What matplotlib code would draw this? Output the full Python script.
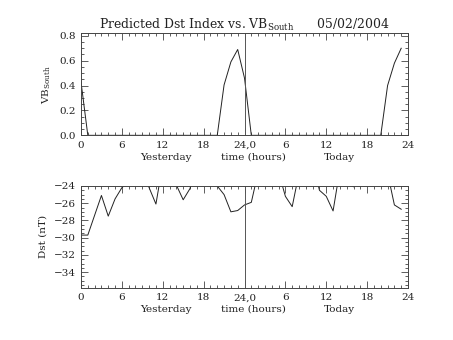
import numpy as np
import matplotlib
matplotlib.use('Agg')
import matplotlib.pyplot as plt
from matplotlib.ticker import MultipleLocator

plt.rcParams['font.family'] = 'DejaVu Serif'
plt.rcParams['mathtext.default'] = 'regular'
plt.rcParams['text.color'] = '#222222'
plt.rcParams['xtick.labelcolor'] = '#222222'
plt.rcParams['ytick.labelcolor'] = '#222222'
plt.rcParams['axes.labelcolor'] = '#222222'

hours = np.arange(48)
tick_hours = [0, 6, 12, 18, 24, 30, 36, 42, 48]
tick_labels = ['0', '6', '12', '18', '24,0', '6', '12', '18', '24']

# VB south, hourly (yesterday + today)
vb_south = [0.43, 0.0, 0.0, 0.0, 0.0, 0.0, 0.0, 0.0, 0.0, 0.0,
            0.0, 0.0, 0.0, 0.0, 0.0, 0.0, 0.0, 0.0, 0.0, 0.0,
            0.0, 0.405, 0.59, 0.69, 0.46, 0.0, 0.0, 0.0, 0.0, 0.0,
            0.0, 0.0, 0.0, 0.0, 0.0, 0.0, 0.0, 0.0, 0.0, 0.0,
            0.0, 0.0, 0.0, 0.0, 0.0, 0.40, 0.58, 0.70]

# Dst (nT), hourly; values above -24 are cut off by the axis
dst = [-29.7, -29.7, -27.4, -25.1, -27.5, -25.5, -24.2, -23.5, -23.0, -22.2,
       -24.2, -26.1, -21.4, -23.0, -23.9, -25.6, -24.3, -21.3, -23.0, -23.0,
       -24.0, -25.0, -27.0, -26.85, -26.2, -25.9, -22.4, -23.0, -23.0, -22.4,
       -25.2, -26.4, -22.5, -23.0, -21.2, -24.5, -25.2, -26.9, -22.1, -23.5,
       -24.1, -23.5, -23.0, -23.0, -23.0, -22.5, -26.2, -26.7]

fig = plt.figure(figsize=(4.53, 3.40), dpi=100)
ax1 = fig.add_axes([0.1788, 0.602, 0.7219, 0.300])
ax2 = fig.add_axes([0.1788, 0.154, 0.7219, 0.299])

line_col = '#222222'


def style_axis(ax):
    ax.set_xlim(0, 48)
    ax.set_xticks(tick_hours)
    ax.set_xticklabels(tick_labels)
    ax.xaxis.set_minor_locator(MultipleLocator(1))
    ax.tick_params(which='both', direction='in', top=True, right=True,
                   labelsize=7.5, width=0.6, color='#444444', pad=4)
    ax.tick_params(which='major', length=5)
    ax.tick_params(which='minor', length=2.5)
    for s in ax.spines.values():
        s.set_linewidth(0.7)
        s.set_color('#444444')
    ax.axvline(24, color='#555555', lw=0.7)
    ax.text(0.259, -0.215, 'Yesterday', transform=ax.transAxes,
            ha='center', va='center', fontsize=7.5)
    ax.text(0.526, -0.215, 'time (hours)', transform=ax.transAxes,
            ha='center', va='center', fontsize=7.5)
    ax.text(0.79, -0.215, 'Today', transform=ax.transAxes,
            ha='center', va='center', fontsize=7.5)


ax1.plot(hours, vb_south, color=line_col, lw=0.7)
style_axis(ax1)
ax1.set_ylim(0, 0.82)
ax1.set_yticks([0.0, 0.2, 0.4, 0.6, 0.8])
ax1.set_yticklabels(['0.0', '0.2', '0.4', '0.6', '0.8'])
ax1.yaxis.set_minor_locator(MultipleLocator(0.05))
ax1.set_ylabel('VB$_{South}$', fontsize=7.5, labelpad=4)
ax1.set_title('Predicted Dst Index vs. VB$_{South}$      05/02/2004',
              fontsize=8.9, pad=3)

ax2.plot(hours, dst, color=line_col, lw=0.7)
style_axis(ax2)
ax2.set_ylim(-35.8, -24)
ax2.set_yticks([-34, -32, -30, -28, -26, -24])
ax2.yaxis.set_minor_locator(MultipleLocator(0.5))
ax2.set_ylabel('Dst (nT)', fontsize=7.5, labelpad=4)

fig.savefig('out.png', dpi=100)
